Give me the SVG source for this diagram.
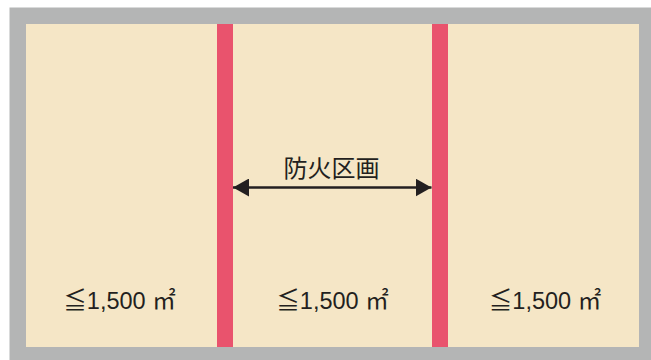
<svg xmlns="http://www.w3.org/2000/svg" width="651" height="360" viewBox="0 0 651 360">
<style>
.lbl{font-family:"Liberation Sans","Noto Sans CJK JP",sans-serif;font-size:23.5px;fill:#231f20;text-anchor:middle}
.ttl{font-family:"Noto Sans CJK JP",sans-serif;font-size:24px;fill:#231f20;text-anchor:middle}
.wall{fill:#e9536d}
</style>
<defs>
<marker id="ah" viewBox="0 0 16 18" refX="16" refY="9" markerWidth="16" markerHeight="18" markerUnits="userSpaceOnUse" orient="auto-start-reverse">
<path d="M0,0 L16,9 L0,18 Z" fill="#231f20"/>
</marker>
</defs>
<rect width="651" height="360" fill="#ffffff"/>
<g id="building">
<rect x="9.5" y="7.5" width="641.5" height="352.5" fill="#b4b5b5"/>
<rect x="26" y="24" width="613" height="323" fill="#f5e6c6"/>
</g>
<g id="wall1"><rect class="wall" x="217" y="24" width="16" height="323"/></g>
<g id="wall2"><rect class="wall" x="432" y="24" width="16" height="323"/></g>
<g id="connectors">
<line x1="233" y1="187.5" x2="431.5" y2="187.5" stroke="#231f20" stroke-width="2.7" marker-start="url(#ah)" marker-end="url(#ah)"/>
</g>
<g id="title"><text class="ttl" x="331.5" y="176.5">防火区画</text></g>
<g id="area1"><text class="lbl" x="119.5" y="308.5">≦1,500 ㎡</text></g>
<g id="area2"><text class="lbl" x="332.5" y="308.5">≦1,500 ㎡</text></g>
<g id="area3"><text class="lbl" x="545" y="308.5">≦1,500 ㎡</text></g>
</svg>
